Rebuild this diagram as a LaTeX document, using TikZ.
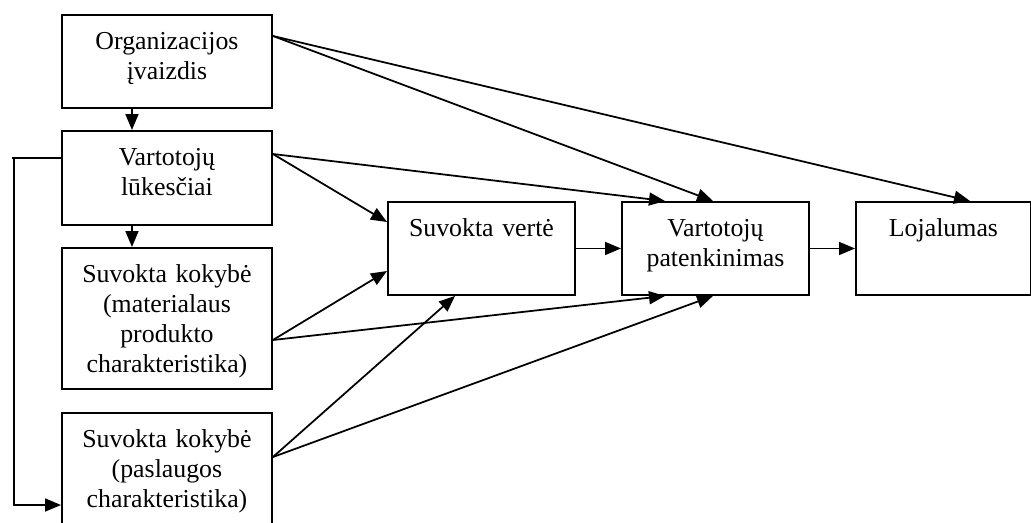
\documentclass[tikz,border=0pt]{standalone}
\usepackage{fontspec}
\setmainfont{Liberation Serif}
\usetikzlibrary{arrows.meta}

\begin{document}
\begin{tikzpicture}[>={Triangle[length=3.2mm,width=2.6mm]}, line width=1pt, box/.style={rectangle, draw, line width=1.1pt, anchor=north west, inner sep=0pt, text width=4.2cm, align=center, text height=0.7cm, font=\fontsize{14.7}{17}\selectfont}]
        \useasboundingbox (0,0) rectangle (20.62,-10.44);

        \node[box, text depth=1.16cm] (org) at (1.22,-0.28) {Organizacijos\\ įvaizdis};
        \node[box, text depth=1.18cm] (exp) at (1.22,-2.60) {Vartotojų\\ lūkesčiai};
        \node[box, text depth=2.12cm] (sk1) at (1.22,-4.94) {Suvokta kokybė\\ (materialaus\\ produkto\\ charakteristika)};
        \node[box, text depth=1.66cm] (sk2) at (1.22,-8.24) {Suvokta kokybė\\ (paslaugos\\ charakteristika)};
        \node[box, text depth=1.16cm, text width=3.74cm] (value) at (7.74,-4.02) {Suvokta vertė};
        \node[box, text depth=1.16cm, text width=3.74cm] (satis) at (12.42,-4.02) {Vartotojų\\ patenkinimas};
        \node[box, text depth=1.16cm, text width=3.5cm] (loyal) at (17.10,-4.02) {Lojalumas};

        \draw[->] ([xshift=-0.7cm]org.south) -- ([xshift=-0.7cm]exp.north);
        \draw[->] ([xshift=-0.7cm]exp.south) -- ([xshift=-0.7cm]sk1.north);
        \draw ([yshift=0.4cm]exp.west) -- ++(-0.98,0);
        \draw[->] ([xshift=-0.94cm, yshift=0.4cm]exp.west) |- ([yshift=-1.86cm]sk2.north west);

        \draw[->] ([yshift=-0.44cm]org.north east) -- ([xshift=1.84cm]satis.north west);
        \draw[->] ([yshift=-0.44cm]org.north east) -- ([xshift=2.3cm]loyal.north west);
        \draw[->] ([yshift=-0.48cm]exp.north east) -- ([xshift=0.88cm]satis.north west);
        \draw[->] ([yshift=-0.48cm]exp.north east) -- ([yshift=-0.42cm]value.north west);
        \draw[->] ([yshift=-1.86cm]sk1.north east) -- ([yshift=-1.4cm]value.north west);
        \draw[->] ([yshift=-1.86cm]sk1.north east) -- ([xshift=0.88cm]satis.south west);
        \draw[->] ([yshift=-0.9cm]sk2.north east) -- ([xshift=1.36cm]value.south west);
        \draw[->] ([yshift=-0.9cm]sk2.north east) -- ([xshift=1.84cm]satis.south west);
        \draw[->] (value) -- (satis);
        \draw[->] (satis.east) -- (loyal.west);

    \end{tikzpicture}
\end{document}
